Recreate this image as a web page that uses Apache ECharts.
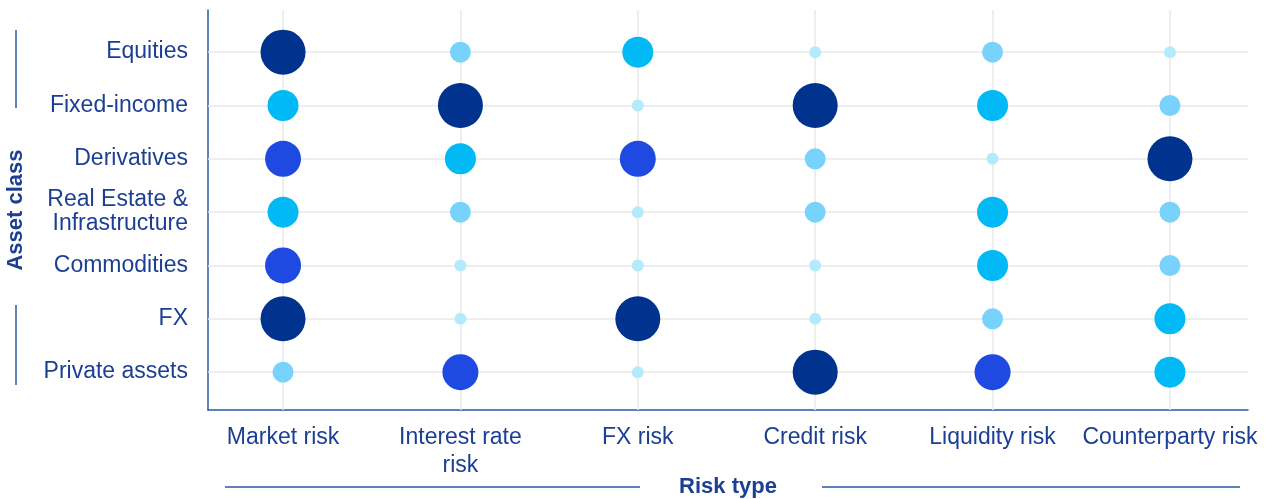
<!DOCTYPE html>
<html>
<head>
<meta charset="utf-8">
<script src="https://cdn.jsdelivr.net/npm/echarts@6/dist/echarts.min.js"></script>
<style>
  html, body { margin: 0; padding: 0; background: #fff; }
  #chart { width: 1285px; height: 499px; }
</style>
</head>
<body>
<div id="chart"></div>
<script>
// risk types (x) and asset classes (y)
var riskTypes = ['Market risk', 'Interest rate\nrisk', 'FX risk', 'Credit risk', 'Liquidity risk', 'Counterparty risk'];
var assetClasses = ['Equities', 'Fixed-income', 'Derivatives', 'Real Estate &\nInfrastructure', 'Commodities', 'FX', 'Private assets'];

// exposure level 1..5, one row per asset class, one column per risk type
var equities   = [5, 2, 3, 1, 2, 1];
var fixedInc   = [3, 5, 1, 5, 3, 2];
var derivs     = [4, 3, 4, 2, 1, 5];
var realEstate = [3, 2, 1, 2, 3, 2];
var commods    = [4, 1, 1, 1, 3, 2];
var fxAssets   = [5, 1, 5, 1, 2, 3];
var privAssets = [2, 4, 1, 5, 4, 3];
var levels = [equities, fixedInc, derivs, realEstate, commods, fxAssets, privAssets];

var levelSizes  = [12, 21, 31, 36, 45];
var levelColors = ['#b3ebfd', '#78d3fc', '#00b9f5', '#1e4ae2', '#00338d'];

var navy = '#1c3f93';
var axisBlue = '#2c56a8';
var fontFam = 'Arial, "Liberation Sans", sans-serif';

var points = [];
levels.forEach(function (row, r) {
  row.forEach(function (lv, c) {
    points.push([c, r, lv]);
  });
});

var xIdx = riskTypes.map(function (d, i) { return i; });
var yIdx = assetClasses.map(function (d, i) { return i; });

var gridLines = [];
xIdx.forEach(function (i) { gridLines.push({ xAxis: i }); });
yIdx.forEach(function (i) { gridLines.push({ yAxis: i }); });

var myChart = echarts.init(document.getElementById('chart'));
var option = {
  animation: false,
  grid: { left: 208, right: 37, top: 10, bottom: 89, containLabel: false, outerBoundsMode: 'none' },
  xAxis: {
    type: 'value',
    min: -0.423,
    max: 5.44,
    name: 'Risk type',
    nameLocation: 'middle',
    nameGap: 66,
    nameMoveOverlap: false,
    nameTextStyle: { color: navy, fontSize: 22, fontWeight: 'bold', fontFamily: fontFam },
    axisLine: { show: true, onZero: false, lineStyle: { color: axisBlue, width: 1.5 } },
    axisTick: { show: false },
    splitLine: { show: false },
    axisLabel: {
      customValues: xIdx,
      formatter: function (v) { return riskTypes[Math.round(v)]; },
      color: navy,
      fontSize: 23,
      fontFamily: fontFam,
      lineHeight: 28,
      margin: 14
    }
  },
  yAxis: {
    type: 'value',
    inverse: true,
    min: -0.79,
    max: 6.71,
    name: 'Asset class',
    nameLocation: 'middle',
    nameGap: 181,
    nameMoveOverlap: false,
    nameRotate: 90,
    nameTextStyle: { color: navy, fontSize: 22, fontWeight: 'bold', fontFamily: fontFam },
    axisLine: { show: true, onZero: false, lineStyle: { color: axisBlue, width: 1.5 } },
    axisTick: { show: false },
    splitLine: { show: false },
    axisLabel: {
      customValues: yIdx,
      formatter: function (v) { return assetClasses[Math.round(v)]; },
      color: navy,
      fontSize: 23,
      fontFamily: fontFam,
      lineHeight: 24,
      margin: 20
    }
  },
  graphic: [
    { type: 'line', shape: { x1: 16, y1: 30, x2: 16, y2: 108 }, style: { stroke: axisBlue, lineWidth: 1.5 } },
    { type: 'line', shape: { x1: 16, y1: 305, x2: 16, y2: 385 }, style: { stroke: axisBlue, lineWidth: 1.5 } },
    { type: 'line', shape: { x1: 225, y1: 487, x2: 640, y2: 487 }, style: { stroke: axisBlue, lineWidth: 1.5 } },
    { type: 'line', shape: { x1: 822, y1: 487, x2: 1240, y2: 487 }, style: { stroke: axisBlue, lineWidth: 1.5 } }
  ],
  series: [
    {
      type: 'scatter',
      data: [],
      silent: true,
      markLine: {
        silent: true,
        symbol: 'none',
        label: { show: false },
        lineStyle: { color: '#e8e8e8', width: 1.5, type: 'solid' },
        data: gridLines
      }
    },
    {
      type: 'scatter',
      zlevel: 1,
      data: points,
      symbolSize: function (d) { return levelSizes[d[2] - 1]; },
      itemStyle: {
        opacity: 1,
        color: function (p) { return levelColors[p.data[2] - 1]; }
      }
    }
  ]
};
myChart.setOption(option);
</script>
</body>
</html>
